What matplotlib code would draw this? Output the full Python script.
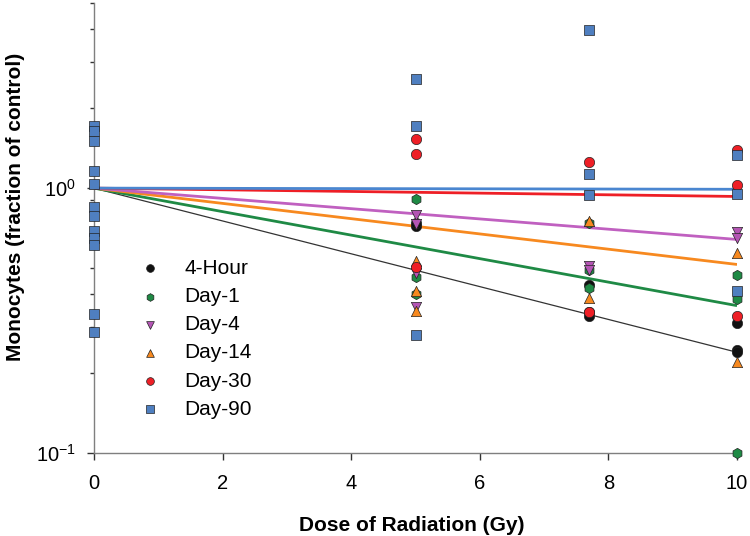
import numpy as np
import matplotlib
matplotlib.use("Agg")
import matplotlib.pyplot as plt
from matplotlib.ticker import LogLocator, NullFormatter, FixedLocator

plt.rcParams['font.family'] = ['Liberation Sans', 'DejaVu Sans']
plt.rcParams['mathtext.fontset'] = 'custom'
plt.rcParams['mathtext.rm'] = 'Liberation Sans'
plt.rcParams['mathtext.default'] = 'regular'

# group names, one per time point after irradiation
groups = ["4-Hour", "Day-1", "Day-4", "Day-14", "Day-30", "Day-90"]

# dose (Gy) and monocyte counts (fraction of control) per group
dose_4h = [5, 5, 7.7, 7.7, 7.7, 10, 10, 10]
mono_4h = [0.72, 0.74, 0.43, 0.34, 0.33, 0.31, 0.245, 0.24]

dose_d1 = [5, 5, 5, 7.7, 7.7, 7.7, 10, 10, 10]
mono_d1 = [0.91, 0.46, 0.40, 0.74, 0.49, 0.42, 0.47, 0.38, 0.10]

dose_d4 = [5, 5, 5, 5, 7.7, 7.7, 10, 10]
mono_d4 = [0.79, 0.73, 0.48, 0.355, 0.51, 0.49, 0.68, 0.65]

dose_d14 = [5, 5, 5, 7.7, 7.7, 10, 10]
mono_d14 = [0.53, 0.41, 0.345, 0.75, 0.385, 0.57, 0.22]

dose_d30 = [5, 5, 5, 7.7, 7.7, 10, 10, 10]
mono_d30 = [1.53, 1.35, 0.505, 1.25, 0.34, 1.39, 1.03, 0.33]

dose_d90 = [0, 0, 0, 0, 0, 0, 0, 0, 0, 0, 0, 0,
            5, 5, 5, 7.7, 7.7, 7.7, 10, 10, 10]
mono_d90 = [1.71, 1.64, 1.51, 1.16, 1.04, 0.85, 0.785, 0.69, 0.65, 0.61, 0.336, 0.287,
            2.58, 1.71, 0.28, 3.97, 1.13, 0.944, 1.33, 0.947, 0.41]

# exponential fits: value 1.0 at 0 Gy, value at 10 Gy below
fit_x = [0, 10]
fit_end = [0.24, 0.36, 0.64, 0.515, 0.93, 0.99]

doses = [dose_4h, dose_d1, dose_d4, dose_d14, dose_d30, dose_d90]
monos = [mono_4h, mono_d1, mono_d4, mono_d14, mono_d30, mono_d90]

colors = ['#111111', '#1f8a45', '#b455b4', '#f7891f', '#ee1f26', '#4f7fc0']
line_colors = ['#333333', '#1f8a45', '#c060c0', '#f7891f', '#ee1f26', '#4a86d0']
line_widths = [0.9, 2.0, 2.0, 2.0, 2.0, 2.0]
markers = ['o', 'h', 'v', '^', 'o', 's']

fig = plt.figure(figsize=(7.5, 5.36), dpi=100)
ax = fig.add_axes([0.1253, 0.1549, 0.8574, 0.8395])

# fit lines first, in drawing order black, green, orange, purple, red, blue
for i in [0, 1, 3, 2, 4, 5]:
    ax.plot(fit_x, [1.0, fit_end[i]], color=line_colors[i], lw=line_widths[i],
            zorder=2, solid_capstyle='butt')

for i, name in enumerate(groups):
    ax.scatter(doses[i], monos[i], s=55, marker=markers[i], color=colors[i],
               edgecolors='#222222', linewidths=0.5, zorder=3, clip_on=False,
               label=name)

ax.set_yscale('log')
ax.set_xlim(0, 10)
ax.set_ylim(0.1, 5)
ax.set_xticks([0, 2, 4, 6, 8, 10])
ax.yaxis.set_major_locator(FixedLocator([0.1, 1]))
ax.yaxis.set_minor_locator(LogLocator(base=10, subs=np.arange(2, 10)))
ax.yaxis.set_minor_formatter(NullFormatter())

for side in ['top', 'right']:
    ax.spines[side].set_visible(False)
for side in ['left', 'bottom']:
    ax.spines[side].set_color('#7f7f7f')
    ax.spines[side].set_linewidth(1.0)

ax.tick_params(axis='both', which='major', labelsize=14.5, length=5, width=1,
               color='#333333')
ax.tick_params(axis='x', which='major', pad=10)
ax.tick_params(axis='y', which='major', pad=8)
ax.tick_params(axis='y', which='minor', length=3, width=1, color='#333333')

# axis titles placed where the reference has them
fig.text(0.549, 0.0205, "Dose of Radiation (Gy)", fontsize=15, fontweight='bold',
         ha='center', va='center')
fig.text(0.021, 0.614, "Monocytes (fraction of control)", fontsize=15,
         fontweight='bold', rotation=90, ha='center', va='center')

leg = ax.legend(loc='upper left', bbox_to_anchor=(0.042, 0.473), frameon=False,
                fontsize=15, markerscale=0.75, labelspacing=0.44,
                handletextpad=1.15, handlelength=1.0)

fig.savefig("out.png", dpi=100)
